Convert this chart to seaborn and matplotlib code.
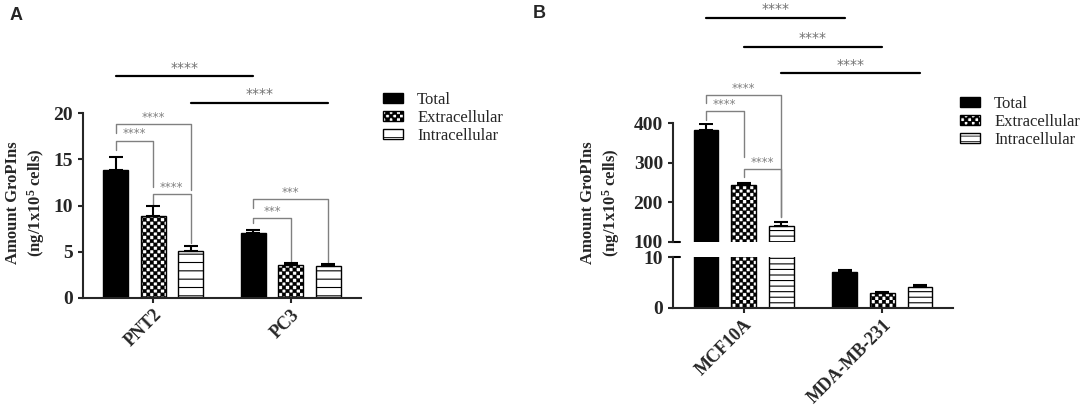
import numpy as np
import pandas as pd
import matplotlib
matplotlib.use('Agg')
import matplotlib.pyplot as plt
import matplotlib.hatch as mhatch
from matplotlib.path import Path
import seaborn as sns

fractions = ['Total', 'Extracellular', 'Intracellular']

# panel A: prostate cell lines
cells_a = ['PNT2', 'PC3']
a_total = [13.8, 7.0]
a_extra = [8.9, 3.6]
a_intra = [5.1, 3.45]
a_total_err = [1.4, 0.35]
a_extra_err = [1.0, 0.2]
a_intra_err = [0.55, 0.25]

# panel B: breast cell lines
cells_b = ['MCF10A', 'MDA-MB-231']
b_total = [382, 7.0]
b_extra = [243, 3.0]
b_intra = [140, 4.2]
b_total_err = [15, 0.4]
b_extra_err = [6, 0.1]
b_intra_err = [11, 0.4]

# within one cell line: (cell, fraction i, fraction j, bracket top, left leg end, right leg end, label)
a_pairs = [
    (0, 0, 2, 18.8, 17.8, 11.7, '****'),
    (0, 0, 1, 17.0, 16.0, 12.0, '****'),
    (0, 1, 2, 11.2, 9.9, 5.9, '****'),
    (1, 0, 2, 10.7, 9.7, 3.9, '***'),
    (1, 0, 1, 8.65, 8.1, 4.0, '***'),
]
b_pairs = [
    (0, 0, 2, 470, 450, 163, '****'),
    (0, 0, 1, 430, 407, 314, '****'),
    (0, 1, 2, 284, 264, 163, '****'),
]
# between cell lines, same fraction: (fraction, height, label)
a_lines = [(0, 24.0, '****'), (2, 21.1, '****')]
b_lines = [(0, 665, '****'), (1, 592, '****'), (2, 526, '****')]

palette = {'Total': 'black', 'Extracellular': 'white', 'Intracellular': 'white'}


class CheckerHatch(mhatch.HatchPatternBase):
    """Filled checkerboard, takes the place of the small circle hatch 'o'."""
    cells = 28

    def __init__(self, hatch, density):
        n = self.cells if 'o' in hatch else 0
        self.num_vertices = n * n // 2 * 5

    def set_vertices_and_codes(self, vertices, codes):
        n = self.cells
        s = 1.0 / n
        sq = np.array([[0, 0], [s, 0], [s, s], [0, s], [0, 0]])
        corners = [(j * s, i * s) for i in range(n) for j in range(n) if (i + j) % 2 == 0]
        vertices[:] = np.concatenate([sq + c for c in corners])
        codes[:] = np.tile([Path.MOVETO, Path.LINETO, Path.LINETO, Path.LINETO, Path.CLOSEPOLY],
                           len(corners))


mhatch._hatch_types = [CheckerHatch if h is mhatch.SmallCircles else h
                       for h in mhatch._hatch_types]

sns.set_style('ticks')
plt.rcParams['font.family'] = ['Liberation Serif', 'DejaVu Serif']
plt.rcParams['font.weight'] = 'bold'
plt.rcParams['mathtext.fontset'] = 'custom'
plt.rcParams['mathtext.rm'] = 'Liberation Serif:bold'
plt.rcParams['mathtext.default'] = 'rm'
plt.rcParams['hatch.linewidth'] = 0.6
plt.rcParams['axes.linewidth'] = 1.5

W, H = 1084, 412
fig = plt.figure(figsize=(W / 100, H / 100), dpi=100)


def px_rect(left, top, right, bottom):
    return [left / W, 1 - bottom / H, (right - left) / W, (bottom - top) / H]


def draw_bars(ax, cells, values, errs, line_hatch):
    df = pd.DataFrame({
        'cell': cells * 3,
        'fraction': np.repeat(fractions, len(cells)),
        'value': np.concatenate(values),
    })
    sns.barplot(data=df, x='cell', y='value', hue='fraction', order=cells,
                hue_order=fractions, palette=palette, width=0.815, gap=0.34,
                edgecolor='black', linewidth=1.0, errorbar=None, legend=False, ax=ax)
    conts = list(ax.containers)
    centers = []
    for k, cont in enumerate(conts):
        bars = sorted(cont.patches, key=lambda p: p.get_x())
        for p in bars:
            p.set_hatch(['', 'o', line_hatch][k])
            if hasattr(p, 'set_hatch_linewidth'):
                p.set_hatch_linewidth(0.3 if k == 1 else 0.8)
        xs = [p.get_x() + p.get_width() / 2 for p in bars]
        tops = [p.get_height() for p in bars]
        ax.errorbar(xs, tops, yerr=[np.zeros(len(xs)), errs[k]], fmt='none',
                    ecolor='black', elinewidth=1.5, capsize=5, capthick=1.5, zorder=3)
        centers.append(xs)
    ax.set_xlim(-0.51, 1.51)
    ax.set_xlabel('')
    ax.set_ylabel('')
    ax.tick_params(direction='out', length=3.6, width=1.5, pad=3.6)
    ax.tick_params(axis='y', labelsize=14)
    ax.tick_params(axis='x', labelsize=13, pad=2.5)
    sns.despine(ax=ax)
    return conts, centers


def brackets(ax, centers, pairs):
    for cell, fi, fj, top, lend, rend, label in pairs:
        x0, x1 = centers[fi][cell], centers[fj][cell]
        ax.plot([x0, x0, x1, x1], [lend, top, top, rend], color='#808080', lw=1.0,
                clip_on=False)
        ax.annotate(label, ((x0 + x1) / 2, top), xytext=(0, 0.3), textcoords='offset points',
                    ha='center', va='bottom', fontsize=8.5, color='#808080',
                    family='DejaVu Sans', weight='normal', annotation_clip=False)


def across(ax, centers, lines):
    for f, h, label in lines:
        x0, x1 = centers[f][0], centers[f][1]
        ax.plot([x0, x1], [h, h], color='black', lw=1.6, clip_on=False)
        ax.annotate(label, ((x0 + x1) / 2, h), xytext=(0, 1), textcoords='offset points',
                    ha='center', va='bottom', fontsize=10, color='#707070',
                    family='DejaVu Sans', weight='normal', annotation_clip=False)


def rotate_xlabels(ax):
    for lab in ax.get_xticklabels():
        lab.set_rotation(45)
        lab.set_ha('right')
        lab.set_rotation_mode('anchor')


legend_kw = dict(loc='upper left', bbox_transform=fig.transFigure, frameon=False,
                 borderpad=0, borderaxespad=0, handlelength=1.2, handleheight=0.6,
                 handletextpad=0.85, labelspacing=0.12,
                 prop={'family': 'Liberation Serif', 'weight': 'normal', 'size': 12})
ylabel = 'Amount GroPIns\n(ng/1x10$^5$ cells)'

# ---- panel A
ax_a = fig.add_axes(px_rect(83, 113, 361, 298))
conts_a, cen_a = draw_bars(ax_a, cells_a, [a_total, a_extra, a_intra],
                           [a_total_err, a_extra_err, a_intra_err], '--')
ax_a.set_ylim(0, 20)
ax_a.set_yticks([0, 5, 10, 15, 20])
rotate_xlabels(ax_a)
brackets(ax_a, cen_a, a_pairs)
across(ax_a, cen_a, a_lines)
ax_a.legend(conts_a, fractions, bbox_to_anchor=(383 / W, 1 - 92 / H), **legend_kw)

# ---- panel B, broken y axis
ax_bt = fig.add_axes(px_rect(673, 123, 953, 242))
ax_bb = fig.add_axes(px_rect(673, 257, 953, 308), sharex=ax_bt)
conts_b, cen_b = draw_bars(ax_bt, cells_b, [b_total, b_extra, b_intra],
                           [b_total_err, b_extra_err, b_intra_err], '---')
draw_bars(ax_bb, cells_b, [b_total, b_extra, b_intra],
          [b_total_err, b_extra_err, b_intra_err], '---')
ax_bt.set_ylim(100, 400)
ax_bt.set_yticks([100, 200, 300, 400])
ax_bb.set_ylim(0, 10)
ax_bb.set_yticks([0, 10])
ax_bt.spines['bottom'].set_visible(False)
ax_bt.tick_params(axis='x', bottom=False, labelbottom=False)
ax_bt.plot([0, 0.025], [0, 0], transform=ax_bt.transAxes, color='black', lw=1.5, clip_on=False)
ax_bb.plot([0, 0.025], [1, 1], transform=ax_bb.transAxes, color='black', lw=1.5, clip_on=False)
rotate_xlabels(ax_bb)
brackets(ax_bt, cen_b, b_pairs)
across(ax_bt, cen_b, b_lines)
ax_bt.legend(conts_b, fractions, bbox_to_anchor=(960 / W, 1 - 96 / H), **legend_kw)

# ---- labels
fig.text(26 / W, 1 - 203 / H, ylabel, rotation=90, ha='center', va='center',
         ma='center', fontsize=12, linespacing=1.3)
fig.text(601 / W, 1 - 203 / H, ylabel, rotation=90, ha='center', va='center',
         ma='center', fontsize=12, linespacing=1.3)
fig.text(10 / W, 1 - 7 / H, 'A', family='Liberation Sans', weight='bold', fontsize=13, va='top')
fig.text(533 / W, 1 - 5 / H, 'B', family='Liberation Sans', weight='bold', fontsize=13, va='top')

fig.savefig('out.png', dpi=100)
